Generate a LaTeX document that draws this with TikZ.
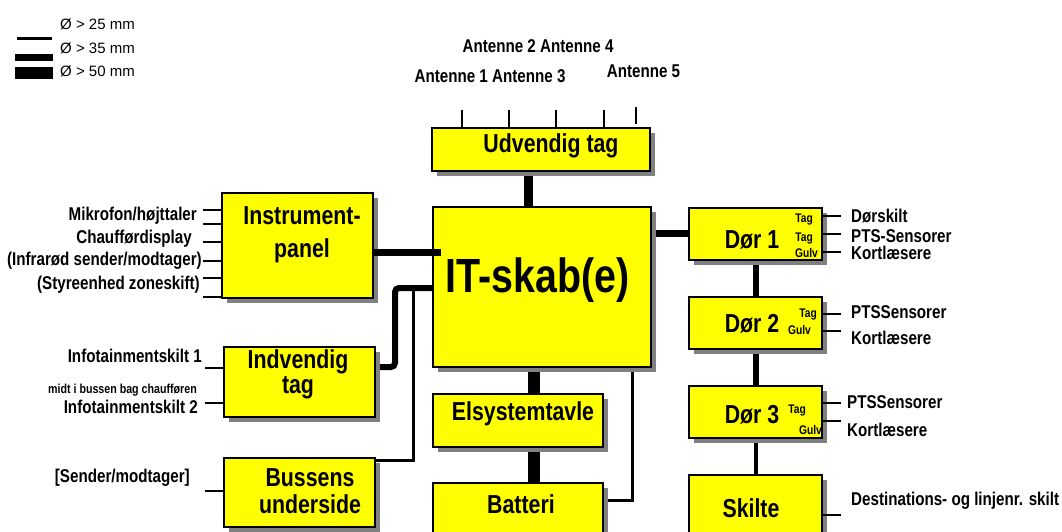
\documentclass[tikz,border=0pt]{standalone}
\usepackage{fontspec}
\setmainfont{Liberation Sans}[FakeStretch=0.82]
\newfontfamily\legendfont{Liberation Sans}
\pgfdeclarelayer{background}
\pgfsetlayers{background,main}
\definecolor{BoxFill}{RGB}{255,255,0}
\definecolor{BoxShadow}{RGB}{128,128,128}
\tikzset{
  boks/.style={draw, line width=1.5pt, fill=BoxFill, inner sep=0pt,
    preaction={fill=BoxShadow, draw=none, transform canvas={xshift=5pt, yshift=-5pt}}},
  titel/.style={font=\bfseries\fontsize{26}{28}\selectfont, anchor=base, inner sep=0pt},
  etiket/.style={font=\bfseries\fontsize{18.5}{20}\selectfont, inner sep=0pt},
  lille/.style={font=\bfseries\fontsize{12.5}{14}\selectfont, inner sep=0pt},
  legtekst/.style={font=\legendfont\fontsize{15}{17}\selectfont, anchor=base west, inner sep=0pt},
  tynd/.style={line width=3pt},
  mellem/.style={line width=7pt},
  tyk/.style={line width=11.5pt},
  stub/.style={line width=1.2pt},
}

\begin{document}
\begin{tikzpicture}[x=1pt, y=-1pt]
    \useasboundingbox (0,0) rectangle (1062,531);
    \clip (0,0) rectangle (1062,531);

    % Forklaring
    \draw[line width=3pt] (17,38) -- (52,38);
    \draw[line width=7pt] (15,57) -- (53,57);
    \draw[line width=12pt] (15,73) -- (53,73);
    \node[legtekst] (leg1) at (60,29) {Ø > 25 mm};
    \node[legtekst] (leg2) at (60,53) {Ø > 35 mm};
    \node[legtekst] (leg3) at (60,76) {Ø > 50 mm};

    % Kasser
    \node[boks, minimum width=218pt, minimum height=43pt] (udv) at (541,149.5) {};
    \node[boks, minimum width=218pt, minimum height=160pt] (itskab) at (542,287) {};
    \node[boks, minimum width=151pt, minimum height=105pt] (instr) at (297.5,245.5) {};
    \node[boks, minimum width=151pt, minimum height=70pt] (indv) at (299.5,382) {};
    \node[boks, minimum width=151pt, minimum height=69pt] (buss) at (299.5,492.5) {};
    \node[boks, minimum width=170pt, minimum height=53pt] (elsys) at (518,420.5) {};
    \node[boks, minimum width=170pt, minimum height=62pt] (batt) at (518,514) {};
    \node[boks, minimum width=133pt, minimum height=52pt] (door1) at (755.5,234) {};
    \node[boks, minimum width=133pt, minimum height=52pt] (door2) at (755.5,323) {};
    \node[boks, minimum width=133pt, minimum height=52pt] (door3) at (755.5,412) {};
    \node[boks, minimum width=133pt, minimum height=62pt] (skilte) at (755.5,506) {};

    % Titler
    \node[titel] (udvT) at (551,152) {Udvendig tag};
    \node[titel, font=\bfseries\fontsize{48}{50}\selectfont] (itT) at (537.5,292) {IT-skab(e)};
    \node[titel] (instrT1) at (302,224) {Instrument-};
    \node[titel] (instrT2) at (302,257) {panel};
    \node[titel] (indvT1) at (298,368) {Indvendig};
    \node[titel] (indvT2) at (298,393) {tag};
    \node[titel] (bussT1) at (310,486) {Bussens};
    \node[titel] (bussT2) at (310,513) {underside};
    \node[titel] (elsysT) at (523,420) {Elsystemtavle};
    \node[titel] (battT) at (521,513) {Batteri};
    \node[titel] (door1T) at (752,248) {Dør 1};
    \node[titel] (door2T) at (752,332) {Dør 2};
    \node[titel] (door3T) at (752,423) {Dør 3};
    \node[titel] (skilteT) at (751,517) {Skilte};

    % Tag og Gulv i dørene
    \node[lille, anchor=base east] (d1a) at (813,222) {Tag};
    \node[lille, anchor=base east] (d1b) at (813,241) {Tag};
    \node[lille, anchor=base east] (d1c) at (818,257) {Gulv};
    \node[lille, anchor=base east] (d2a) at (817,317) {Tag};
    \node[lille, anchor=base east] (d2b) at (811,334) {Gulv};
    \node[lille, anchor=base east] (d3a) at (806,413) {Tag};
    \node[lille, anchor=base east] (d3b) at (822,434) {Gulv};

    % Forbindelser
    \begin{pgfonlayer}{background}
    \draw[tyk, line width=9pt] (udv.south -| 528,0) -- (itskab.north -| 528,0);
    \draw[mellem] (itskab.east |- 0,233) -- (door1.west |- 0,233);
    \draw[mellem, line width=6pt] (door1.south) -- (door2.north);
    \draw[mellem, line width=6pt] (door2.south) -- (door3.north);
    \draw[tynd, line width=4pt] (door3.south) -- (skilte.north);
    \draw[tyk] (itskab.south -| 534,0) -- (elsys.north -| 534,0);
    \draw[tyk] (elsys.south -| 534,0) -- (batt.north -| 534,0);
    \draw[tynd] (batt.east |- 0,500) -| (itskab.south -| 632,0);
    \draw[mellem, line width=6pt, rounded corners=4pt]
        (indv.east |- 0,367) -| (395,288) -- (itskab.west |- 0,288);
    \draw[tynd] (buss.east |- 0,460) -| (413,288);
    \end{pgfonlayer}
    \coordinate (instrEnd) at (441,252);
    \draw[mellem] (instr.east |- 0,252) -- (instrEnd);

    % Antenner
    \foreach \x in {462,509,556,604}
        \draw[stub] (udv.north -| \x,0) -- ++(0,-17);
    \draw[stub] (udv.north -| 636,0) ++(0,-3) -- ++(0,-17);
    \node[etiket, anchor=base] (ant24) at (538,52) {Antenne 2 Antenne 4};
    \node[etiket, anchor=base] (ant13) at (490,82) {Antenne 1 Antenne 3};
    \node[etiket, anchor=base] (ant5) at (643.5,77) {Antenne 5};

    % Venstre side
    \foreach \y in {210,224,242,261,278,297}
        \draw[stub] (instr.west |- 0,\y) -- ++(-18,0);
    \foreach \y in {368,403}
        \draw[stub] (indv.west |- 0,\y) -- ++(-18,0);
    \draw[stub] (buss.west |- 0,491) -- ++(-18,0);
    \node[etiket, anchor=base east] (mik) at (197,220) {Mikrofon/højttaler};
    \node[etiket, anchor=base east] (chauf) at (192,243) {Chaufførdisplay};
    \node[etiket, anchor=base east] (infra) at (202,265) {(Infrarød sender/modtager)};
    \node[etiket, anchor=base east] (styr) at (200,289) {(Styreenhed zoneskift)};
    \node[etiket, anchor=base east] (info1) at (202,362) {Infotainmentskilt 1};
    \node[lille, font=\bfseries\fontsize{13}{15}\selectfont, anchor=base east] (midt) at (197,393) {midt i bussen bag chaufføren};
    \node[etiket, anchor=base east] (info2) at (198,413) {Infotainmentskilt 2};
    \node[etiket, anchor=base east] (sender) at (190,482) {[Sender/modtager]};

    % Højre side
    \foreach \y in {216,234,252}
        \draw[stub] (door1.east |- 0,\y) -- ++(18,0);
    \foreach \y in {314,331}
        \draw[stub] (door2.east |- 0,\y) -- ++(18,0);
    \foreach \y in {403,421}
        \draw[stub] (door3.east |- 0,\y) -- ++(18,0);
    \draw[stub] (skilte.east |- 0,515) -- ++(18,0);
    \node[etiket, anchor=base west] (dskilt) at (851,222) {Dørskilt};
    \node[etiket, anchor=base west] (pts1) at (851,242) {PTS-Sensorer};
    \node[etiket, anchor=base west] (kort1) at (851,259) {Kortlæsere};
    \node[etiket, anchor=base west] (pts2) at (851,318) {PTSSensorer};
    \node[etiket, anchor=base west] (kort2) at (851,344) {Kortlæsere};
    \node[etiket, anchor=base west] (pts3) at (847,408) {PTSSensorer};
    \node[etiket, anchor=base west] (kort3) at (847,436) {Kortlæsere};
    \node[etiket, anchor=base west] (dest) at (851,505) {Destinations- og linjenr. skilt};
\end{tikzpicture}
\end{document}
